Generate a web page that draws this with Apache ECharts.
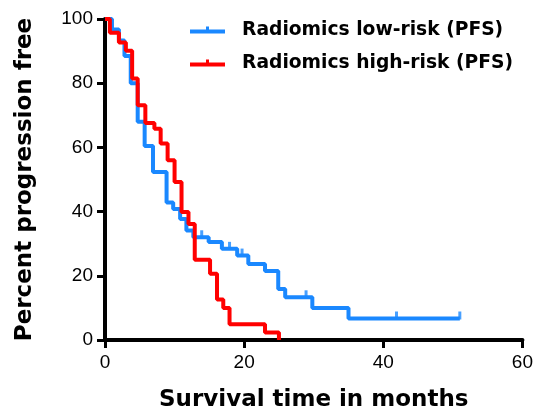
<!DOCTYPE html>
<html>
<head>
<meta charset="utf-8">
<script src="https://cdn.jsdelivr.net/npm/echarts@6/dist/echarts.min.js"></script>
<style>
html, body { margin: 0; padding: 0; background: #fff; }
#km { width: 536px; height: 417px; }
</style>
</head>
<body>
<div id="km"></div>
<script>
// Kaplan-Meier steps: [month, percent progression free], value holds until next point
var lowRisk = [
	[0, 100], [1, 96.7], [2, 93.3], [2.8, 88.5], [3.7, 80], [4.7, 68],
	[5.7, 60.4], [6.9, 52.3], [8.85, 42.8], [9.8, 40.8], [10.8, 37.7],
	[11.7, 34.1], [12.7, 32.0], [14.9, 30.5], [16.8, 28.4], [19.0, 26.3],
	[20.6, 23.7], [23.0, 21.5], [24.9, 15.9], [25.9, 13.3], [29.8, 10.0],
	[35.0, 6.7], [51, 6.7]
];
var highRisk = [
	[0, 100], [0.7, 95.7], [2, 92.7], [3, 90.1], [3.9, 81.5], [4.7, 73.1],
	[5.8, 67.6], [7.1, 65.8], [8, 61.2], [9, 56.0], [10, 49.2], [11, 39.9],
	[12, 36.1], [12.9, 25.0], [15.1, 20.6], [16.1, 12.6], [17, 10.0],
	[17.9, 4.9], [23, 2.3], [25, 0]
];
// censored observations (tick marks)
var lowCensored = [[13.9, 32.0], [17.9, 28.4], [19.7, 26.3], [28.9, 13.3], [41.9, 6.7], [51, 6.7]];

var xTicks = [0, 20, 40, 60];
var yTicks = [0, 20, 40, 60, 80, 100];

var blue = '#1a88ff';
var red = '#ff0000';
var tickIcon = 'path://M0,3 L35,3 L35,7 L0,7 Z M16,0 L19,0 L19,3 L16,3 Z';

var chart = echarts.init(document.getElementById('km'));

var option = {
	animation: false,
	backgroundColor: '#fff',
	grid: { left: 105, right: 13, top: 19, bottom: 75 },
	legend: {
		orient: 'vertical',
		left: 190,
		top: 19,
		padding: 0,
		itemGap: 11,
		itemWidth: 35,
		itemHeight: 7,
		selectedMode: false,
		data: [
			{ name: 'Radiomics low-risk (PFS)', icon: tickIcon },
			{ name: 'Radiomics high-risk (PFS)', icon: tickIcon }
		],
		textStyle: {
			fontFamily: 'DejaVu Sans',
			fontWeight: 'bold',
			fontSize: 18.7,
			lineHeight: 22,
			color: '#000',
			padding: [0, 0, 0, 12]
		}
	},
	xAxis: {
		type: 'value',
		min: xTicks[0],
		max: xTicks[xTicks.length - 1],
		interval: 20,
		name: 'Survival time in months',
		nameLocation: 'middle',
		nameGap: 49,
		nameTextStyle: { fontFamily: 'DejaVu Sans', fontWeight: 'bold', fontSize: 23, color: '#000' },
		axisLine: { lineStyle: { color: '#000', width: 4 } },
		axisTick: { length: 8, lineStyle: { color: '#000', width: 3 } },
		axisLabel: { margin: 13, fontFamily: 'Liberation Sans', fontSize: 19, color: '#000' },
		splitLine: { show: false }
	},
	yAxis: {
		type: 'value',
		min: yTicks[0],
		max: yTicks[yTicks.length - 1],
		interval: 20,
		name: 'Percent progression free',
		nameLocation: 'middle',
		nameGap: 68,
		nameTextStyle: { fontFamily: 'DejaVu Sans', fontWeight: 'bold', fontSize: 23, color: '#000' },
		axisLine: { show: true, lineStyle: { color: '#000', width: 4 } },
		axisTick: { show: true, length: 8, lineStyle: { color: '#000', width: 3 } },
		axisLabel: { margin: 12, fontFamily: 'Liberation Sans', fontSize: 19, color: '#000' },
		splitLine: { show: false }
	},
	series: [
		{
			name: 'Radiomics low-risk (PFS)',
			type: 'line',
			step: 'end',
			data: lowRisk,
			showSymbol: false,
			color: blue,
			lineStyle: { width: 4, color: blue }
		},
		{
			name: 'low-risk censored',
			type: 'scatter',
			data: lowCensored,
			symbol: 'rect',
			symbolSize: [3, 8],
			symbolOffset: [0, -3],
			itemStyle: { color: blue },
			silent: true
		},
		{
			name: 'Radiomics high-risk (PFS)',
			type: 'line',
			step: 'end',
			data: highRisk,
			showSymbol: false,
			color: red,
			lineStyle: { width: 4, color: red }
		}
	]
};

chart.setOption(option);
</script>
</body>
</html>
